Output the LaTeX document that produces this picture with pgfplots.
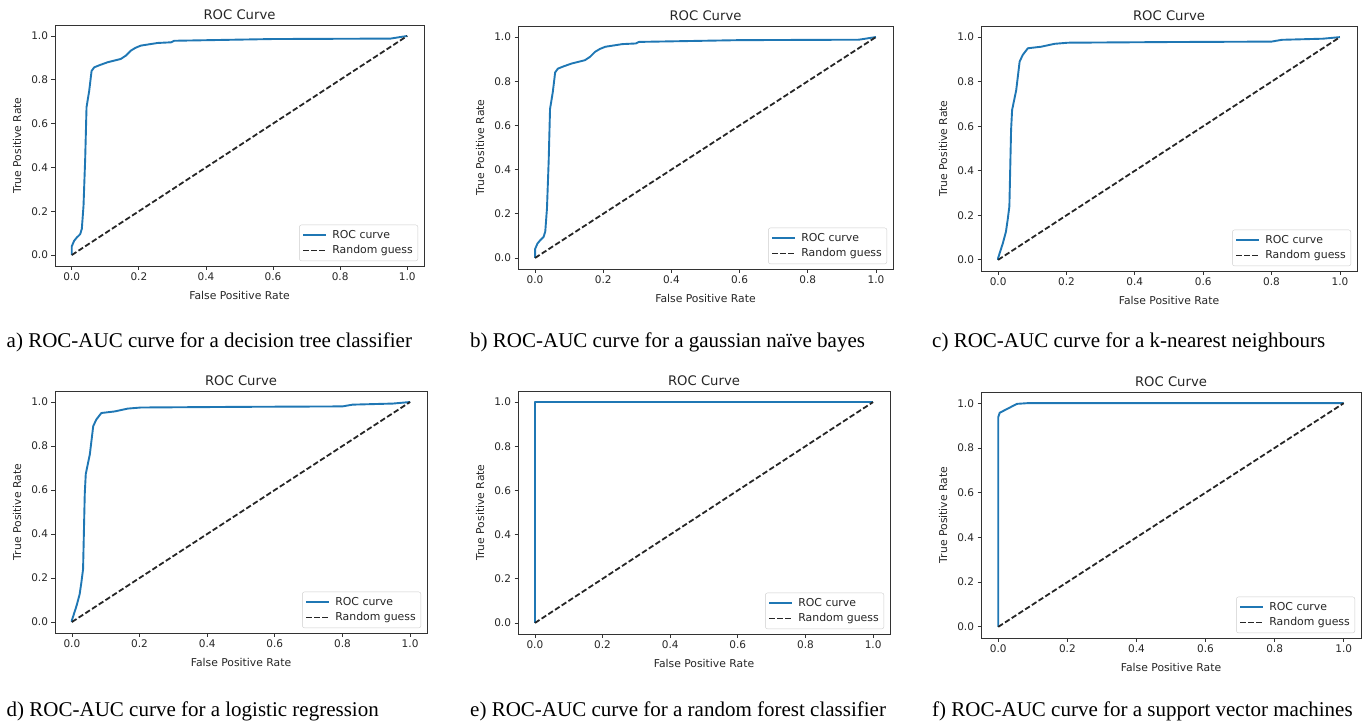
\documentclass[border=0pt]{standalone}
\usepackage{fontspec}
\setmainfont{Liberation Serif}
\newfontfamily\dejavu{DejaVu Sans}
\usepackage{pgfplots}
\usepackage{pgfplotstable}
\pgfplotsset{compat=1.18}
\definecolor{mplblue}{HTML}{1F77B4}

% ROC points (fpr tpr)
\pgfplotstableread{
fpr tpr
0 0
0 0.04
0.007 0.065
0.015 0.08
0.025 0.095
0.03 0.12
0.035 0.225
0.04 0.44
0.044 0.675
0.052 0.75
0.059 0.84
0.067 0.857
0.085 0.868
0.107 0.88
0.146 0.895
0.161 0.91
0.176 0.933
0.19 0.946
0.206 0.956
0.256 0.968
0.296 0.971
0.305 0.978
0.6 0.986
0.95 0.988
1 1
}\dtree
\pgfplotstableread{
fpr tpr
0 0
0 0.04
0.007 0.065
0.015 0.08
0.025 0.095
0.03 0.12
0.035 0.225
0.04 0.44
0.044 0.675
0.052 0.75
0.059 0.84
0.067 0.857
0.085 0.868
0.107 0.88
0.146 0.895
0.161 0.91
0.176 0.933
0.19 0.946
0.206 0.956
0.256 0.968
0.296 0.971
0.305 0.978
0.6 0.986
0.95 0.988
1 1
}\gnb
\pgfplotstableread{
fpr tpr
0 0
0 0.008
0.014 0.075
0.023 0.127
0.028 0.18
0.033 0.24
0.038 0.583
0.041 0.673
0.053 0.762
0.063 0.89
0.072 0.92
0.087 0.95
0.126 0.957
0.165 0.97
0.204 0.975
0.5 0.978
0.8 0.98
0.83 0.988
0.95 0.993
1 1
}\knn
\pgfplotstableread{
fpr tpr
0 0
0 0.008
0.014 0.075
0.023 0.127
0.028 0.18
0.033 0.24
0.038 0.583
0.041 0.673
0.053 0.762
0.063 0.89
0.072 0.92
0.087 0.95
0.126 0.957
0.165 0.97
0.204 0.975
0.5 0.978
0.8 0.98
0.83 0.988
0.95 0.993
1 1
}\logreg
\pgfplotstableread{
fpr tpr
0 0
0 1
1 1
}\rforest
\pgfplotstableread{
fpr tpr
0 0
0 0.938
0.004 0.957
0.054 0.997
0.083 1.0
1 1
}\svm

\pgfplotsset{
  legend image code/.code={\draw[#1] (0pt,0pt) -- (23pt,0pt);},
  roc/.style={mplblue, line width=1.9pt, line join=round, no markers},
  rand/.style={black!85, line width=1.8pt, dash pattern=on 5.5pt off 2.5pt, no markers},
  rocax/.style n args={2}{
    scale only axis, width=#1pt, height=#2pt,
    xmin=-0.05, xmax=1.05, ymin=-0.05, ymax=1.05,
    xtick={0,0.2,0.4,0.6,0.8,1.0}, ytick={0,0.2,0.4,0.6,0.8,1.0},
    tick align=outside, tick pos=left,
    major tick length=3.5pt,
    every tick/.style={black!80, line width=0.8pt},
    axis line style={black!80, line width=0.8pt},
    tick label style={font=\dejavu\fontsize{10.5}{12}\selectfont, text=black!85,
      /pgf/number format/fixed, /pgf/number format/fixed zerofill,
      /pgf/number format/precision=1, /pgf/number format/assume math mode=true},
    title={ROC Curve},
    every axis title shift=0pt,
    title style={at={(axis description cs:0.5,1+10/#2)}, anchor=center,
      font=\dejavu\fontsize{13.2}{15}\selectfont, text=black!85},
    xlabel={False Positive Rate}, ylabel={True Positive Rate},
    label style={font=\dejavu\fontsize{10.8}{12}\selectfont, text=black!85},
    xlabel style={at={(axis description cs:0.5,-29/#2)}, anchor=center},
    ylabel style={at={(axis description cs:-38/#1,0.5)}, anchor=center},
    legend style={at={(axis description cs:1-6/#1,5/#2)}, anchor=south east,
      draw=black!20, rounded corners=2pt, fill=white, text=black!85,
      inner xsep=3pt, inner ysep=3.5pt, row sep=1.5pt,
      /tikz/every odd column/.append style={column sep=3pt},
      font=\dejavu\fontsize{10.9}{12}\selectfont},
    legend cell align=left,
  },
}

\begin{document}
\begin{tikzpicture}
\useasboundingbox (0,0) rectangle (1368pt,-723pt);

\begin{axis}[rocax={369}{241}, at={(55pt,-266pt)}, anchor=south west]
\addplot[roc] table[x=fpr, y=tpr] {\dtree}; \addlegendentry{ROC curve}
\addplot[rand] coordinates {(0,0) (1,1)}; \addlegendentry{Random guess}
\end{axis}

\begin{axis}[rocax={375}{243}, at={(518pt,-269pt)}, anchor=south west]
\addplot[roc] table[x=fpr, y=tpr] {\gnb}; \addlegendentry{ROC curve}
\addplot[rand] coordinates {(0,0) (1,1)}; \addlegendentry{Random guess}
\end{axis}

\begin{axis}[rocax={376}{245}, at={(981pt,-271pt)}, anchor=south west]
\addplot[roc] table[x=fpr, y=tpr] {\knn}; \addlegendentry{ROC curve}
\addplot[rand] coordinates {(0,0) (1,1)}; \addlegendentry{Random guess}
\end{axis}

\begin{axis}[rocax={372}{242}, at={(55pt,-633pt)}, anchor=south west]
\addplot[roc] table[x=fpr, y=tpr] {\logreg}; \addlegendentry{ROC curve}
\addplot[rand] coordinates {(0,0) (1,1)}; \addlegendentry{Random guess}
\end{axis}

\begin{axis}[rocax={372}{243}, at={(518pt,-634pt)}, anchor=south west]
\addplot[roc] table[x=fpr, y=tpr] {\rforest}; \addlegendentry{ROC curve}
\addplot[rand] coordinates {(0,0) (1,1)}; \addlegendentry{Random guess}
\end{axis}

\begin{axis}[rocax={380}{246}, at={(981pt,-638pt)}, anchor=south west]
\addplot[roc] table[x=fpr, y=tpr] {\svm}; \addlegendentry{ROC curve}
\addplot[rand] coordinates {(0,0) (1,1)}; \addlegendentry{Random guess}
\end{axis}

% captions
\begin{scope}[every node/.style={anchor=base west, inner sep=0pt, font=\fontsize{21}{24}\selectfont}]
\node at (6.5pt,-347pt) {a) ROC-AUC curve for a decision tree classifier};
\node at (470pt,-347pt) {b) ROC-AUC curve for a gaussian naïve bayes};
\node at (932pt,-347pt) {c) ROC-AUC curve for a k-nearest neighbours};
\node at (6.5pt,-716pt) {d) ROC-AUC curve for a logistic regression};
\node at (470pt,-716pt) {e) ROC-AUC curve for a random forest classifier};
\node at (932pt,-716pt) {f) ROC-AUC curve for a support vector machines};
\end{scope}
\end{tikzpicture}
\end{document}
